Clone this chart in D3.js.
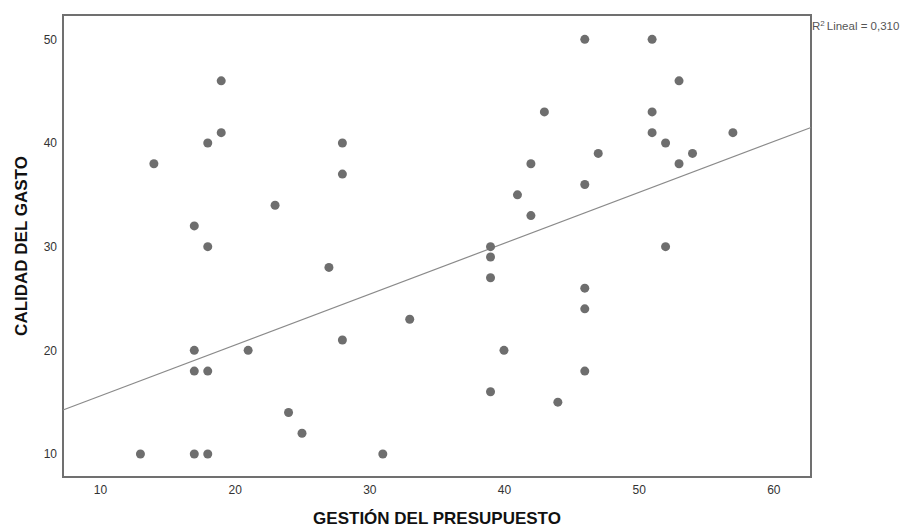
<!DOCTYPE html>
<html>
<head>
<meta charset="utf-8">
<script src="https://cdn.jsdelivr.net/npm/d3@7"></script>
<style>
  html, body { margin: 0; padding: 0; background: #fff; }
  svg { display: block; font-family: "Liberation Sans", Arial, sans-serif; }
</style>
</head>
<body>
<svg id="chart" width="904" height="529"></svg>
<script>
// ---- data ----
const gestion = [13,14,17,17,17,17,18,18,18,18,19,19,21,23,24,25,27,28,28,28,31,33,39,39,39,39,40,41,42,42,43,44,46,46,46,46,46,47,51,51,51,52,52,53,53,54,57];
const calidad = [10,38,32,20,18,10,40,30,18,10,46,41,20,34,14,12,28,40,37,21,10,23,30,29,27,16,20,35,38,33,43,15,50,36,26,24,18,39,50,43,41,40,30,46,38,39,41];
const xTicks = [10, 20, 30, 40, 50, 60];
const yTicks = [10, 20, 30, 40, 50];
const xDomain = [7.25, 62.8];
const yDomain = [7.78, 52.35];
// fit line (as displayed in the reference)
const fitIntercept = 10.69;
const fitSlope = 0.4906;
const r2Label = "Lineal = 0,310";
const xTitle = "GESTIÓN DEL PRESUPUESTO";
const yTitle = "CALIDAD DEL GASTO";

const svg = d3.select("#chart");
const m = { left: 63, top: 15, right: 811, bottom: 477 };

const x = d3.scaleLinear().domain(xDomain).range([m.left, m.right]);
const y = d3.scaleLinear().domain(yDomain).range([m.bottom, m.top]);

// frame
svg.append("rect")
  .attr("x", m.left).attr("y", m.top)
  .attr("width", m.right - m.left).attr("height", m.bottom - m.top)
  .attr("fill", "#fff").attr("stroke", "#707070").attr("stroke-width", 2);

// axes (labels only, no tick marks)
const xAxis = d3.axisBottom(x).tickValues(xTicks).tickSize(0).tickPadding(8).tickFormat(d3.format("d"));
const gx = svg.append("g").attr("transform", `translate(0,${m.bottom})`).call(xAxis);
gx.select(".domain").remove();
gx.selectAll("text").attr("font-size", 12).attr("fill", "#333").attr("font-family", "Liberation Sans, Arial, sans-serif");

const yAxis = d3.axisLeft(y).tickValues(yTicks).tickSize(0).tickPadding(6).tickFormat(d3.format("d"));
const gy = svg.append("g").attr("transform", `translate(${m.left},0)`).call(yAxis);
gy.select(".domain").remove();
gy.selectAll("text").attr("font-size", 12).attr("fill", "#333").attr("font-family", "Liberation Sans, Arial, sans-serif");

// fit line
const lineData = xDomain.map(v => [v, fitIntercept + fitSlope * v]);
svg.append("path")
  .datum(lineData)
  .attr("d", d3.line().x(d => x(d[0])).y(d => y(d[1])))
  .attr("fill", "none").attr("stroke", "#8a8a8a").attr("stroke-width", 1.2);

// points
const pts = gestion.map((g, i) => ({ g, c: calidad[i] }));
svg.append("g").selectAll("circle").data(pts).join("circle")
  .attr("cx", d => x(d.g)).attr("cy", d => y(d.c))
  .attr("r", 4.5).attr("fill", "#6e6e6e");

// R² label
const rl = svg.append("text").attr("x", m.right + 1).attr("y", 30)
  .attr("font-size", 11.5).attr("fill", "#555");
rl.append("tspan").text("R");
rl.append("tspan").attr("dy", -4).attr("font-size", 8).text("2");
rl.append("tspan").attr("dy", 4).attr("dx", 2).text(r2Label);

// axis titles
svg.append("text")
  .attr("x", (m.left + m.right) / 2).attr("y", 524)
  .attr("text-anchor", "middle").attr("font-size", 17).attr("font-weight", "bold").attr("fill", "#111")
  .text(xTitle);

svg.append("text")
  .attr("transform", `translate(27,${(m.top + m.bottom) / 2}) rotate(-90)`)
  .attr("text-anchor", "middle").attr("font-size", 17).attr("font-weight", "bold").attr("fill", "#111")
  .text(yTitle);
</script>
</body>
</html>
